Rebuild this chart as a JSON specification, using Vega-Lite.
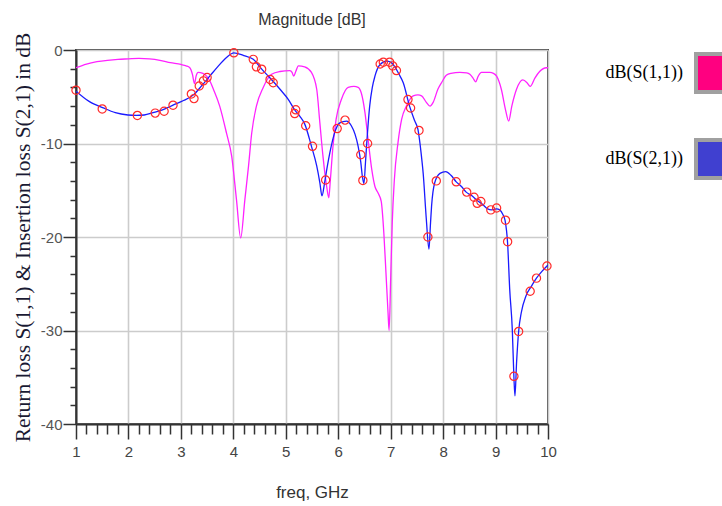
{
  "$schema": "https://vega.github.io/schema/vega-lite/v6.json",
  "width": 472,
  "height": 374,
  "autosize": "none",
  "padding": {"left": 76, "top": 50, "right": 174, "bottom": 82},
  "background": "white",
  "title": {"text": "Magnitude [dB]", "font": "Liberation Sans", "fontSize": 16, "fontWeight": "normal", "color": "#333333", "anchor": "middle", "frame": "group", "baseline": "alphabetic", "offset": -9},
  "config": {"view": {"stroke": "#444444", "strokeWidth": 2}},
  "datasets": {
    "curves": [
      {"f": 1.0, "s": "dB(S(1,1))", "v": -1.9}, {"f": 1.2, "s": "dB(S(1,1))", "v": -1.5}, {"f": 1.4, "s": "dB(S(1,1))", "v": -1.25}, {"f": 1.6, "s": "dB(S(1,1))", "v": -1.1}, {"f": 1.8, "s": "dB(S(1,1))", "v": -1.0}, {"f": 2.0, "s": "dB(S(1,1))", "v": -0.95}, {"f": 2.2, "s": "dB(S(1,1))", "v": -0.9}, {"f": 2.4, "s": "dB(S(1,1))", "v": -0.95}, {"f": 2.6, "s": "dB(S(1,1))", "v": -1.1}, {"f": 2.8, "s": "dB(S(1,1))", "v": -1.35}, {"f": 3.0, "s": "dB(S(1,1))", "v": -1.55}, {"f": 3.1, "s": "dB(S(1,1))", "v": -1.7}, {"f": 3.17, "s": "dB(S(1,1))", "v": -1.9}, {"f": 3.22, "s": "dB(S(1,1))", "v": -2.6}, {"f": 3.26, "s": "dB(S(1,1))", "v": -3.6}, {"f": 3.29, "s": "dB(S(1,1))", "v": -2.8}, {"f": 3.33, "s": "dB(S(1,1))", "v": -2.4}, {"f": 3.42, "s": "dB(S(1,1))", "v": -2.5}, {"f": 3.49, "s": "dB(S(1,1))", "v": -2.8}, {"f": 3.56, "s": "dB(S(1,1))", "v": -3.4}, {"f": 3.62, "s": "dB(S(1,1))", "v": -4.2}, {"f": 3.74, "s": "dB(S(1,1))", "v": -6.0}, {"f": 3.87, "s": "dB(S(1,1))", "v": -8.9}, {"f": 3.97, "s": "dB(S(1,1))", "v": -11.4}, {"f": 4.06, "s": "dB(S(1,1))", "v": -16.0}, {"f": 4.14, "s": "dB(S(1,1))", "v": -20.1}, {"f": 4.22, "s": "dB(S(1,1))", "v": -16.0}, {"f": 4.29, "s": "dB(S(1,1))", "v": -12.4}, {"f": 4.35, "s": "dB(S(1,1))", "v": -8.9}, {"f": 4.44, "s": "dB(S(1,1))", "v": -6.0}, {"f": 4.57, "s": "dB(S(1,1))", "v": -4.0}, {"f": 4.73, "s": "dB(S(1,1))", "v": -2.6}, {"f": 4.89, "s": "dB(S(1,1))", "v": -2.3}, {"f": 5.08, "s": "dB(S(1,1))", "v": -2.2}, {"f": 5.12, "s": "dB(S(1,1))", "v": -2.4}, {"f": 5.15, "s": "dB(S(1,1))", "v": -2.8}, {"f": 5.19, "s": "dB(S(1,1))", "v": -2.3}, {"f": 5.24, "s": "dB(S(1,1))", "v": -1.7}, {"f": 5.36, "s": "dB(S(1,1))", "v": -1.8}, {"f": 5.49, "s": "dB(S(1,1))", "v": -2.4}, {"f": 5.59, "s": "dB(S(1,1))", "v": -4.2}, {"f": 5.65, "s": "dB(S(1,1))", "v": -7.8}, {"f": 5.71, "s": "dB(S(1,1))", "v": -11.4}, {"f": 5.78, "s": "dB(S(1,1))", "v": -14.6}, {"f": 5.82, "s": "dB(S(1,1))", "v": -15.8}, {"f": 5.85, "s": "dB(S(1,1))", "v": -13.9}, {"f": 5.9, "s": "dB(S(1,1))", "v": -10.3}, {"f": 5.96, "s": "dB(S(1,1))", "v": -7.4}, {"f": 6.06, "s": "dB(S(1,1))", "v": -5.3}, {"f": 6.19, "s": "dB(S(1,1))", "v": -4.0}, {"f": 6.3, "s": "dB(S(1,1))", "v": -3.9}, {"f": 6.38, "s": "dB(S(1,1))", "v": -4.0}, {"f": 6.44, "s": "dB(S(1,1))", "v": -4.6}, {"f": 6.51, "s": "dB(S(1,1))", "v": -6.7}, {"f": 6.57, "s": "dB(S(1,1))", "v": -9.6}, {"f": 6.64, "s": "dB(S(1,1))", "v": -12.8}, {"f": 6.7, "s": "dB(S(1,1))", "v": -14.6}, {"f": 6.76, "s": "dB(S(1,1))", "v": -15.3}, {"f": 6.82, "s": "dB(S(1,1))", "v": -16.2}, {"f": 6.87, "s": "dB(S(1,1))", "v": -19.6}, {"f": 6.91, "s": "dB(S(1,1))", "v": -23.8}, {"f": 6.95, "s": "dB(S(1,1))", "v": -28.1}, {"f": 6.97, "s": "dB(S(1,1))", "v": -30.0}, {"f": 7.0, "s": "dB(S(1,1))", "v": -24.5}, {"f": 7.03, "s": "dB(S(1,1))", "v": -18.5}, {"f": 7.07, "s": "dB(S(1,1))", "v": -13.9}, {"f": 7.14, "s": "dB(S(1,1))", "v": -9.9}, {"f": 7.21, "s": "dB(S(1,1))", "v": -7.4}, {"f": 7.3, "s": "dB(S(1,1))", "v": -6.0}, {"f": 7.43, "s": "dB(S(1,1))", "v": -4.9}, {"f": 7.52, "s": "dB(S(1,1))", "v": -4.8}, {"f": 7.59, "s": "dB(S(1,1))", "v": -4.9}, {"f": 7.68, "s": "dB(S(1,1))", "v": -5.6}, {"f": 7.75, "s": "dB(S(1,1))", "v": -6.0}, {"f": 7.81, "s": "dB(S(1,1))", "v": -5.6}, {"f": 7.9, "s": "dB(S(1,1))", "v": -4.2}, {"f": 7.98, "s": "dB(S(1,1))", "v": -3.4}, {"f": 8.06, "s": "dB(S(1,1))", "v": -2.7}, {"f": 8.15, "s": "dB(S(1,1))", "v": -2.5}, {"f": 8.32, "s": "dB(S(1,1))", "v": -2.4}, {"f": 8.45, "s": "dB(S(1,1))", "v": -2.45}, {"f": 8.51, "s": "dB(S(1,1))", "v": -2.6}, {"f": 8.57, "s": "dB(S(1,1))", "v": -3.0}, {"f": 8.62, "s": "dB(S(1,1))", "v": -3.4}, {"f": 8.67, "s": "dB(S(1,1))", "v": -2.8}, {"f": 8.73, "s": "dB(S(1,1))", "v": -2.4}, {"f": 8.89, "s": "dB(S(1,1))", "v": -2.4}, {"f": 8.96, "s": "dB(S(1,1))", "v": -2.5}, {"f": 9.02, "s": "dB(S(1,1))", "v": -2.8}, {"f": 9.11, "s": "dB(S(1,1))", "v": -4.2}, {"f": 9.19, "s": "dB(S(1,1))", "v": -6.4}, {"f": 9.25, "s": "dB(S(1,1))", "v": -7.6}, {"f": 9.31, "s": "dB(S(1,1))", "v": -6.0}, {"f": 9.4, "s": "dB(S(1,1))", "v": -4.2}, {"f": 9.52, "s": "dB(S(1,1))", "v": -3.2}, {"f": 9.6, "s": "dB(S(1,1))", "v": -3.5}, {"f": 9.66, "s": "dB(S(1,1))", "v": -3.9}, {"f": 9.75, "s": "dB(S(1,1))", "v": -3.0}, {"f": 9.84, "s": "dB(S(1,1))", "v": -2.3}, {"f": 9.97, "s": "dB(S(1,1))", "v": -1.9}, {"f": 10.0, "s": "dB(S(1,1))", "v": -1.9},
      {"f": 1.0, "s": "dB(S(2,1))", "v": -4.4}, {"f": 1.25, "s": "dB(S(2,1))", "v": -5.5}, {"f": 1.52, "s": "dB(S(2,1))", "v": -6.2}, {"f": 1.75, "s": "dB(S(2,1))", "v": -6.7}, {"f": 1.99, "s": "dB(S(2,1))", "v": -6.95}, {"f": 2.15, "s": "dB(S(2,1))", "v": -7.0}, {"f": 2.3, "s": "dB(S(2,1))", "v": -6.95}, {"f": 2.47, "s": "dB(S(2,1))", "v": -6.7}, {"f": 2.65, "s": "dB(S(2,1))", "v": -6.4}, {"f": 2.85, "s": "dB(S(2,1))", "v": -5.9}, {"f": 3.05, "s": "dB(S(2,1))", "v": -5.4}, {"f": 3.24, "s": "dB(S(2,1))", "v": -4.8}, {"f": 3.4, "s": "dB(S(2,1))", "v": -3.8}, {"f": 3.55, "s": "dB(S(2,1))", "v": -2.8}, {"f": 3.7, "s": "dB(S(2,1))", "v": -1.8}, {"f": 3.87, "s": "dB(S(2,1))", "v": -0.8}, {"f": 4.01, "s": "dB(S(2,1))", "v": -0.3}, {"f": 4.2, "s": "dB(S(2,1))", "v": -0.6}, {"f": 4.38, "s": "dB(S(2,1))", "v": -1.0}, {"f": 4.55, "s": "dB(S(2,1))", "v": -2.1}, {"f": 4.7, "s": "dB(S(2,1))", "v": -3.0}, {"f": 4.89, "s": "dB(S(2,1))", "v": -4.2}, {"f": 5.05, "s": "dB(S(2,1))", "v": -5.3}, {"f": 5.17, "s": "dB(S(2,1))", "v": -6.4}, {"f": 5.27, "s": "dB(S(2,1))", "v": -7.1}, {"f": 5.36, "s": "dB(S(2,1))", "v": -7.9}, {"f": 5.49, "s": "dB(S(2,1))", "v": -10.3}, {"f": 5.59, "s": "dB(S(2,1))", "v": -12.4}, {"f": 5.65, "s": "dB(S(2,1))", "v": -14.2}, {"f": 5.69, "s": "dB(S(2,1))", "v": -15.6}, {"f": 5.74, "s": "dB(S(2,1))", "v": -14.2}, {"f": 5.79, "s": "dB(S(2,1))", "v": -12.5}, {"f": 5.84, "s": "dB(S(2,1))", "v": -11.0}, {"f": 5.94, "s": "dB(S(2,1))", "v": -8.7}, {"f": 6.03, "s": "dB(S(2,1))", "v": -7.8}, {"f": 6.16, "s": "dB(S(2,1))", "v": -7.6}, {"f": 6.25, "s": "dB(S(2,1))", "v": -8.1}, {"f": 6.32, "s": "dB(S(2,1))", "v": -9.0}, {"f": 6.38, "s": "dB(S(2,1))", "v": -10.3}, {"f": 6.43, "s": "dB(S(2,1))", "v": -12.0}, {"f": 6.46, "s": "dB(S(2,1))", "v": -13.5}, {"f": 6.49, "s": "dB(S(2,1))", "v": -14.3}, {"f": 6.52, "s": "dB(S(2,1))", "v": -12.0}, {"f": 6.54, "s": "dB(S(2,1))", "v": -10.3}, {"f": 6.6, "s": "dB(S(2,1))", "v": -6.0}, {"f": 6.65, "s": "dB(S(2,1))", "v": -4.0}, {"f": 6.7, "s": "dB(S(2,1))", "v": -2.8}, {"f": 6.79, "s": "dB(S(2,1))", "v": -1.6}, {"f": 6.92, "s": "dB(S(2,1))", "v": -1.2}, {"f": 7.0, "s": "dB(S(2,1))", "v": -1.3}, {"f": 7.08, "s": "dB(S(2,1))", "v": -1.8}, {"f": 7.16, "s": "dB(S(2,1))", "v": -2.6}, {"f": 7.24, "s": "dB(S(2,1))", "v": -3.5}, {"f": 7.36, "s": "dB(S(2,1))", "v": -6.0}, {"f": 7.46, "s": "dB(S(2,1))", "v": -7.6}, {"f": 7.52, "s": "dB(S(2,1))", "v": -8.5}, {"f": 7.58, "s": "dB(S(2,1))", "v": -11.0}, {"f": 7.62, "s": "dB(S(2,1))", "v": -13.2}, {"f": 7.68, "s": "dB(S(2,1))", "v": -18.1}, {"f": 7.73, "s": "dB(S(2,1))", "v": -21.3}, {"f": 7.76, "s": "dB(S(2,1))", "v": -18.5}, {"f": 7.78, "s": "dB(S(2,1))", "v": -16.7}, {"f": 7.84, "s": "dB(S(2,1))", "v": -14.2}, {"f": 7.94, "s": "dB(S(2,1))", "v": -13.2}, {"f": 8.05, "s": "dB(S(2,1))", "v": -13.0}, {"f": 8.15, "s": "dB(S(2,1))", "v": -13.4}, {"f": 8.25, "s": "dB(S(2,1))", "v": -14.1}, {"f": 8.35, "s": "dB(S(2,1))", "v": -14.6}, {"f": 8.44, "s": "dB(S(2,1))", "v": -15.2}, {"f": 8.55, "s": "dB(S(2,1))", "v": -15.6}, {"f": 8.65, "s": "dB(S(2,1))", "v": -16.1}, {"f": 8.75, "s": "dB(S(2,1))", "v": -16.5}, {"f": 8.85, "s": "dB(S(2,1))", "v": -17.0}, {"f": 8.92, "s": "dB(S(2,1))", "v": -17.1}, {"f": 9.02, "s": "dB(S(2,1))", "v": -17.0}, {"f": 9.08, "s": "dB(S(2,1))", "v": -17.1}, {"f": 9.14, "s": "dB(S(2,1))", "v": -17.6}, {"f": 9.18, "s": "dB(S(2,1))", "v": -18.2}, {"f": 9.23, "s": "dB(S(2,1))", "v": -20.7}, {"f": 9.27, "s": "dB(S(2,1))", "v": -25.6}, {"f": 9.32, "s": "dB(S(2,1))", "v": -30.0}, {"f": 9.35, "s": "dB(S(2,1))", "v": -35.0}, {"f": 9.37, "s": "dB(S(2,1))", "v": -37.0}, {"f": 9.4, "s": "dB(S(2,1))", "v": -33.5}, {"f": 9.44, "s": "dB(S(2,1))", "v": -30.1}, {"f": 9.49, "s": "dB(S(2,1))", "v": -28.1}, {"f": 9.58, "s": "dB(S(2,1))", "v": -26.3}, {"f": 9.68, "s": "dB(S(2,1))", "v": -25.3}, {"f": 9.78, "s": "dB(S(2,1))", "v": -24.4}, {"f": 9.88, "s": "dB(S(2,1))", "v": -23.7}, {"f": 10.0, "s": "dB(S(2,1))", "v": -23.0}
    ],
    "meas": [
      {"f": 1.0, "v": -4.3}, {"f": 1.5, "v": -6.3}, {"f": 2.17, "v": -7.0}, {"f": 2.51, "v": -6.75}, {"f": 2.68, "v": -6.55}, {"f": 2.85, "v": -5.9}, {"f": 3.2, "v": -4.7}, {"f": 3.25, "v": -5.2}, {"f": 3.35, "v": -3.85}, {"f": 3.43, "v": -3.3}, {"f": 3.5, "v": -2.95}, {"f": 4.01, "v": -0.3}, {"f": 4.38, "v": -1.0}, {"f": 4.44, "v": -1.8}, {"f": 4.54, "v": -2.05}, {"f": 4.7, "v": -3.15}, {"f": 4.76, "v": -3.5}, {"f": 5.17, "v": -6.8}, {"f": 5.19, "v": -6.4}, {"f": 5.38, "v": -8.1}, {"f": 5.51, "v": -10.3}, {"f": 5.76, "v": -13.9}, {"f": 5.98, "v": -8.4}, {"f": 6.13, "v": -7.5}, {"f": 6.43, "v": -11.2}, {"f": 6.47, "v": -13.95}, {"f": 6.56, "v": -10.0}, {"f": 6.8, "v": -1.5}, {"f": 6.86, "v": -1.3}, {"f": 6.98, "v": -1.3}, {"f": 7.04, "v": -1.7}, {"f": 7.11, "v": -2.2}, {"f": 7.33, "v": -5.3}, {"f": 7.38, "v": -6.2}, {"f": 7.54, "v": -8.6}, {"f": 7.71, "v": -20.0}, {"f": 7.87, "v": -14.0}, {"f": 8.25, "v": -14.1}, {"f": 8.45, "v": -15.2}, {"f": 8.59, "v": -15.75}, {"f": 8.65, "v": -16.4}, {"f": 8.72, "v": -16.2}, {"f": 8.91, "v": -17.1}, {"f": 9.02, "v": -16.9}, {"f": 9.19, "v": -18.2}, {"f": 9.23, "v": -20.5}, {"f": 9.35, "v": -34.9}, {"f": 9.44, "v": -30.1}, {"f": 9.66, "v": -25.8}, {"f": 9.78, "v": -24.4}, {"f": 9.98, "v": -23.1}
    ]
  },
  "layer": [
    {
      "data": {"name": "curves"},
      "mark": {"type": "line", "strokeWidth": 1.3, "interpolate": "monotone", "clip": true},
      "encoding": {
        "x": {"field": "f", "type": "quantitative", "scale": {"domain": [1, 10], "nice": false, "zero": false},
          "axis": {"orient": "bottom", "values": [1, 2, 3, 4, 5, 6, 7, 8, 9, 10], "labelExpr": "'' + datum.value", "title": "freq, GHz", "titleFont": "Liberation Sans", "titleFontSize": 17, "titleFontWeight": "normal", "titleColor": "#333333", "titlePadding": 25, "labelFont": "Liberation Sans", "labelFontSize": 15, "labelColor": "#444444", "labelPadding": 5, "labelFlush": false, "tickSize": 15, "tickWidth": 1.5, "tickColor": "#333333", "domainColor": "#333333", "domainWidth": 2, "grid": true, "gridColor": "#cccccc", "gridWidth": 1.6}},
        "y": {"field": "v", "type": "quantitative", "scale": {"domain": [-40, 0], "nice": false, "zero": false},
          "axis": {"orient": "left", "values": [-40, -30, -20, -10, 0], "labelExpr": "'' + datum.value", "title": "Return loss S(1,1) & Insertion loss S(2,1) in dB", "titleFont": "Liberation Serif", "titleFontSize": 21.5, "titleFontWeight": "normal", "titleColor": "#1a1a33", "titlePadding": 6, "labelFont": "Liberation Sans", "labelFontSize": 15, "labelColor": "#555555", "labelPadding": 1, "labelFlush": false, "tickSize": 13, "tickWidth": 1.5, "tickColor": "#333333", "domainColor": "#333333", "domainWidth": 2, "grid": true, "gridColor": "#cccccc", "gridWidth": 1.6}},
        "color": {"field": "s", "type": "nominal", "scale": {"range": ["#ff22ff", "#1a1aff"]}, "legend": null}
      }
    },
    {
      "data": {"name": "meas"},
      "mark": {"type": "point", "shape": "circle", "filled": false, "color": "#ff2a2a", "strokeWidth": 1.2, "size": 68, "opacity": 1},
      "encoding": {
        "x": {"field": "f", "type": "quantitative",
          "axis": {"orient": "bottom", "values": [1.2, 1.4, 1.6, 1.8, 2.2, 2.4, 2.6, 2.8, 3.2, 3.4, 3.6, 3.8, 4.2, 4.4, 4.6, 4.8, 5.2, 5.4, 5.6, 5.8, 6.2, 6.4, 6.6, 6.8, 7.2, 7.4, 7.6, 7.8, 8.2, 8.4, 8.6, 8.8, 9.2, 9.4, 9.6, 9.8], "labels": false, "domain": false, "grid": false, "title": null, "tickSize": 10, "tickWidth": 1.5, "tickColor": "#333333"}},
        "y": {"field": "v", "type": "quantitative",
          "axis": {"orient": "left", "values": [-38, -36, -34, -32, -28, -26, -24, -22, -18, -16, -14, -12, -8, -6, -4, -2], "labels": false, "domain": false, "grid": false, "title": null, "tickSize": 6, "tickWidth": 1.5, "tickColor": "#333333"}}
      }
    },
    {
      "data": {"name": "curves"},
      "mark": {"type": "square", "size": 0, "filled": true},
      "encoding": {
        "x": {"field": "f", "type": "quantitative", "axis": null},
        "y": {"field": "v", "type": "quantitative", "axis": null},
        "fill": {"field": "s", "type": "nominal", "scale": {"domain": ["dB(S(1,1))", "dB(S(2,1))"], "range": ["#ff0080", "#4040d0"]},
          "legend": {"orient": "none", "legendX": 618, "legendY": 2, "title": null, "padding": 0, "symbolType": "square", "symbolSize": 1444, "symbolStrokeWidth": 4, "symbolStrokeColor": "#a0a0a0", "symbolOpacity": 1, "labelAlign": "right", "labelBaseline": "middle", "labelOffset": -53, "labelFont": "Liberation Serif", "labelFontSize": 18, "labelColor": "#000000", "rowPadding": 32,
            "encode": {"symbols": {"update": {"stroke": {"value": "#a0a0a0"}, "strokeWidth": {"value": 4}}}}}}
      }
    }
  ],
  "resolve": {"axis": {"x": "independent", "y": "independent"}}
}
